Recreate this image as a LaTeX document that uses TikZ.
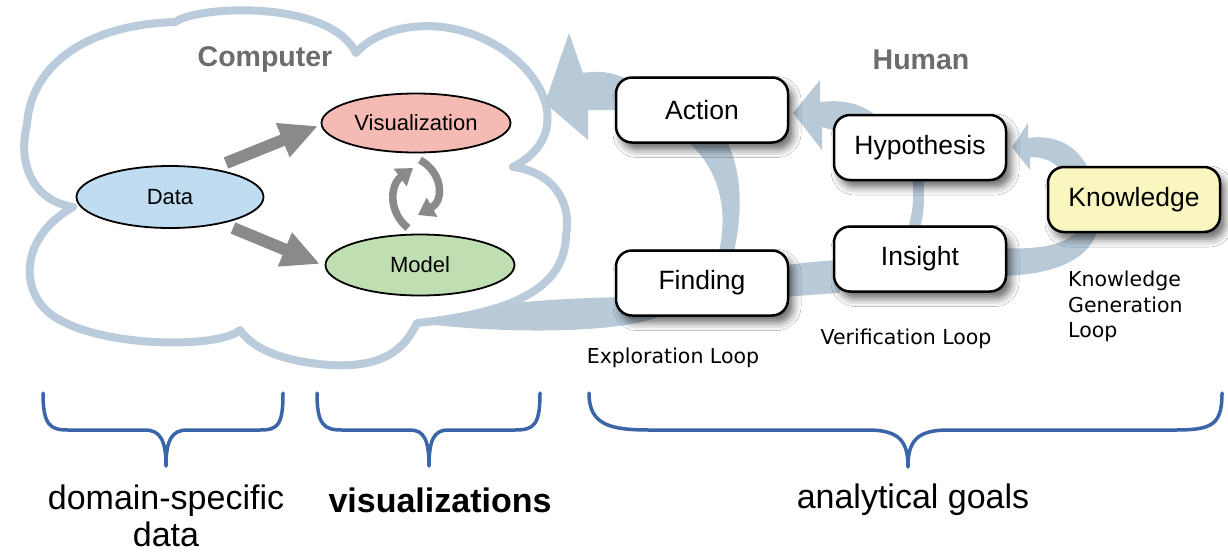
\documentclass[tikz,border=0pt]{standalone}
\usepackage{fontspec}
\setmainfont{Liberation Sans}
\newfontfamily\dejavu{DejaVu Sans}
\usetikzlibrary{arrows.meta,shapes.geometric,shadows.blur}
\definecolor{cloudc}{RGB}{186,204,219}
\definecolor{bandc}{RGB}{184,201,216}
\definecolor{vizc}{RGB}{245,186,180}
\definecolor{datac}{RGB}{191,220,241}
\definecolor{modelc}{RGB}{191,222,177}
\definecolor{knowc}{RGB}{250,246,192}
\definecolor{bracec}{RGB}{58,101,168}
\definecolor{titlec}{RGB}{108,108,108}
\definecolor{arrowg}{RGB}{138,138,138}
\begin{document}
\begin{tikzpicture}[x=1pt,y=-1pt,
  cloudline/.style={draw=cloudc, line width=8pt, line join=round},
  band/.style={fill=bandc},
  ell/.style={ellipse, draw=black, line width=1.8pt, inner sep=0pt, font=\fontsize{22}{26}\selectfont},
  box/.style={rounded corners=16pt, draw=black, line width=2.5pt, fill=white,
    minimum width=172pt, minimum height=65pt, inner sep=0pt,
    font=\fontsize{26.5}{31}\selectfont,
    blur shadow={shadow xshift=5pt, shadow yshift=-7pt, shadow blur radius=8pt, shadow opacity=60}},
  looplabel/.style={font=\dejavu\fontsize{20.5}{25.5}\selectfont, align=left, inner sep=0pt},
  titletext/.style={font=\bfseries\fontsize{28.5}{34}\selectfont, text=titlec},
  goal/.style={font=\fontsize{34}{37}\selectfont, align=center, inner sep=0pt},
  bracepath/.style={draw=bracec, line width=3.5pt, line cap=round, line join=round},
  garrow/.style={draw=arrowg, line width=12pt, -{Triangle[length=38pt,width=34pt]}},
  carrow/.style={draw=arrowg, line width=7.5pt, -{Triangle[length=16pt,width=21pt]}}
]
\useasboundingbox (0,0) rectangle (1228,552);
\fill[white] (0,0) rectangle (1228,552);

% cloud
\draw[cloudline] (73,207) .. controls (30,200) and (18,160) .. (27,125)
  .. controls (30,70) and (80,25) .. (175,22)
  .. controls (200,5) and (330,0) .. (356,53)
  .. controls (380,25) and (440,15) .. (490,42)
  .. controls (545,70) and (575,135) .. (513,167)
  .. controls (555,172) and (572,205) .. (566,235)
  .. controls (565,285) and (520,312) .. (417,323)
  .. controls (405,348) and (385,368) .. (330,365)
  .. controls (290,362) and (255,352) .. (240,330)
  .. controls (220,348) and (110,348) .. (60,320)
  .. controls (20,300) and (15,240) .. (73,207) -- cycle;

% big loop bands
% exploration loop
\fill[band] (417,323) .. controls (455,318) and (490,306) .. (525,302)
  .. controls (570,298) and (610,297) .. (650,297) -- (668,312)
  .. controls (640,332) and (520,336) .. (417,323) -- cycle;
\fill[band] (683,138) .. controls (712,160) and (732,200) .. (718,256) -- (733,256)
  .. controls (745,205) and (740,165) .. (725,138) -- cycle;
\fill[band] (569,33) -- (583,73) .. controls (600,70) and (615,72) .. (640,85)
  -- (640,110) -- (588,110) -- (588,140) -- (545,103) -- cycle;
% verification loop
\fill[band] (780,266) .. controls (800,263) and (820,261) .. (840,260) -- (840,293)
  .. controls (820,294) and (800,296) .. (780,297) -- cycle;
\fill[band] (912,175) .. controls (915,200) and (912,215) .. (907,232) -- (919,232)
  .. controls (924,215) and (925,200) .. (923,175) -- cycle;
\fill[band] (793,113) -- (820,80) -- (820,102) .. controls (845,99) and (868,104) .. (885,125)
  -- (850,135) -- (822,127) -- (822,150) -- cycle;
% knowledge generation loop
\fill[band] (1000,248) .. controls (1040,250) and (1068,245) .. (1080,228) -- (1098,228)
  .. controls (1090,262) and (1050,275) .. (1000,276) -- cycle;
\fill[band] (1012,147) -- (1028,123) -- (1028,138) .. controls (1055,134) and (1078,145) .. (1090,172)
  -- (1062,172) .. controls (1055,162) and (1045,157) .. (1030,157) -- (1030,170) -- cycle;

% computer side
\node[titletext] (computer) at (265,60) {Computer};
\node[ell, fill=datac, minimum width=187pt, minimum height=62pt] (data) at (170,197) {Data};
\node[ell, fill=vizc, minimum width=189pt, minimum height=59pt] (viz) at (416,123) {Visualization};
\node[ell, fill=modelc, minimum width=189pt, minimum height=61pt] (model) at (420,265) {Model};

\coordinate (dv1) at (226,163);
\coordinate (dv2) at (318,126);
\coordinate (dm1) at (233,228);
\coordinate (dm2) at (320,264);
\draw[garrow] (dv1) -- (dv2);
\draw[garrow] (dm1) -- (dm2);
\coordinate (cl1) at (408,228);
\coordinate (cl2) at (413,168);
\coordinate (cr1) at (420,160);
\coordinate (cr2) at (418,215);
\draw[carrow] (cl1) .. controls (388,212) and (390,185) .. (cl2);
\draw[carrow] (cr1) .. controls (442,172) and (445,200) .. (cr2);

% human side
\node[titletext] (human) at (921,60) {Human};
\node[box] (action) at (702,110) {Action};
\node[box] (hypo) at (920,147.5) {Hypothesis};
\node[box, fill=knowc] (know) at (1134,199.5) {Knowledge};
\node[box] (insight) at (920,259) {Insight};
\node[box] (finding) at (702,283) {Finding};

\node[looplabel] (lexp) at (673,358) {Exploration Loop};
\node[looplabel] (lver) at (906,339) {Verification Loop};
\node[looplabel, anchor=north west] (lknow) at (1068,271) {Knowledge\\Generation\\Loop};

% braces
\draw[bracepath] (43,393) .. controls (43,425) and (50,430) .. (68,430) -- (145,430)
  .. controls (160,430) and (166,440) .. (166,466)
  .. controls (166,440) and (172,430) .. (187,430) -- (260,430)
  .. controls (278,430) and (283,425) .. (283,393);
\draw[bracepath] (317,393) .. controls (317,425) and (324,430) .. (342,430) -- (410,430)
  .. controls (424,430) and (429,440) .. (429,466)
  .. controls (429,440) and (434,430) .. (448,430) -- (515,430)
  .. controls (534,430) and (540,425) .. (540,393);
\draw[bracepath] (589,393) .. controls (589,425) and (610,430) .. (650,430) -- (868,430)
  .. controls (900,430) and (908,442) .. (908,467)
  .. controls (908,442) and (916,430) .. (948,430) -- (1175,430)
  .. controls (1212,430) and (1222,425) .. (1222,393);

\node[goal] (g1) at (166,516) {domain-specific\\data};
\node[goal, font=\bfseries\fontsize{34}{37}\selectfont] (g2) at (440,500) {visualizations};
\node[goal] (g3) at (913,500) {analytical goals};
\end{tikzpicture}
\end{document}
